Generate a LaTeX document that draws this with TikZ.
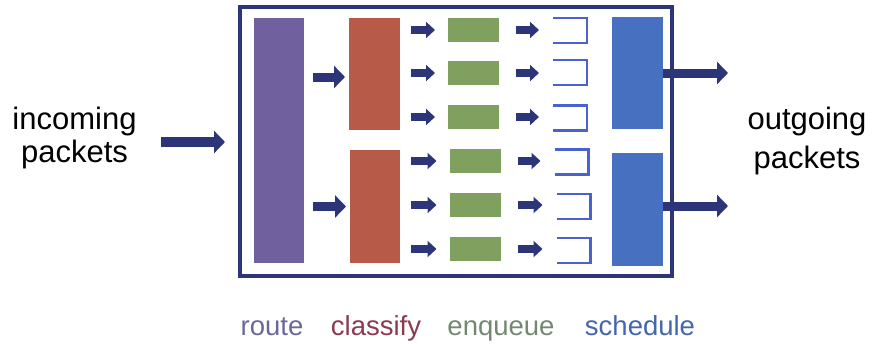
\documentclass[tikz,border=0pt]{standalone}
\usepackage{fontspec}
\setmainfont{Liberation Sans}
\usetikzlibrary{arrows.meta}
\definecolor{navy}{HTML}{2B3577}
\definecolor{routec}{HTML}{70609E}
\definecolor{classc}{HTML}{B85A48}
\definecolor{enqc}{HTML}{80A060}
\definecolor{schedc}{HTML}{4870C0}
\definecolor{queuec}{HTML}{4A62D0}
\definecolor{routet}{HTML}{6A6898}
\definecolor{classt}{HTML}{8B3B50}
\definecolor{enqt}{HTML}{748870}
\definecolor{schedt}{HTML}{4466AA}
\tikzset{
  blockbox/.style={inner sep=0pt, outer sep=0pt, draw=none},
  qbox/.style={inner sep=0pt, outer sep=0pt, minimum width=34pt, minimum height=25pt},
  qline/.style={draw=queuec, line width=2.3pt},
  bigarrow/.style={draw=navy, line width=10pt, -{Triangle[length=11pt,width=22pt]}},
  midarrow/.style={draw=navy, line width=9pt, -{Triangle[length=11pt,width=22pt]}},
  smallarrow/.style={draw=navy, line width=7.5pt, -{Triangle[length=9pt,width=16pt]}},
  sidetext/.style={inner sep=0pt, align=center, text=black},
  legend/.style={inner sep=0pt, anchor=base, font=\fontsize{27.5}{30}\selectfont},
}
\begin{document}
\begin{tikzpicture}[x=1pt,y=-1pt]
\useasboundingbox (0,0) rectangle (875,343);
% frame
\node[draw=navy, line width=4pt, minimum width=432pt, minimum height=269pt, inner sep=0pt] (frame) at (456,141.5) {};
% route
\node[blockbox, fill=routec, minimum width=50pt, minimum height=245pt] (route) at (279,140.5) {};
% classify
\node[blockbox, fill=classc, minimum width=51pt, minimum height=112pt] (clA) at (374.5,74) {};
\node[blockbox, fill=classc, minimum width=50pt, minimum height=113pt] (clB) at (375,206.5) {};
% schedule
\node[blockbox, fill=schedc, minimum width=51pt, minimum height=112pt] (scA) at (637.5,73) {};
\node[blockbox, fill=schedc, minimum width=51pt, minimum height=113pt] (scB) at (637.5,209.5) {};
% enqueue boxes
\node[blockbox, fill=enqc, minimum width=51pt, minimum height=24pt] (e1) at (473.5,30) {};
\node[blockbox, fill=enqc, minimum width=51pt, minimum height=24pt] (e2) at (473.5,73) {};
\node[blockbox, fill=enqc, minimum width=51pt, minimum height=24pt] (e3) at (473.5,117) {};
\node[blockbox, fill=enqc, minimum width=51pt, minimum height=24pt] (e4) at (475,161) {};
\node[blockbox, fill=enqc, minimum width=51pt, minimum height=24pt] (e5) at (475,205) {};
\node[blockbox, fill=enqc, minimum width=51pt, minimum height=24pt] (e6) at (475,249) {};
% queues
\node[qbox] (q1) at (570,30.5) {};
\node[qbox] (q2) at (570,72.5) {};
\node[qbox] (q3) at (570,118) {};
\node[qbox] (q4) at (571.5,162) {};
\node[qbox] (q5) at (573.5,206.5) {};
\node[qbox] (q6) at (573.5,250.5) {};
\foreach \q in {q1,q2,q3,q4,q5,q6}{
  \draw[qline] (\q.north west) -- (\q.north east) -- (\q.south east) -- (\q.south west);
}
% texts
\node[sidetext, font=\fontsize{31}{33}\selectfont] (inT) at (74.5,138) {incoming\\packets};
\node[sidetext, font=\fontsize{31}{39}\selectfont] (outT) at (807,141) {outgoing\\packets};
\coordinate (inA) at (161,142);
\coordinate (outA) at (728,73);
\coordinate (outB) at (728,206);
% arrows
\draw[bigarrow, shorten >=13pt] (inA) -- (inA -| frame.west);
\draw[midarrow, shorten <=9pt, shorten >=4pt] ([yshift=-3pt]clA.west -| route.east) -- ([yshift=-3pt]clA.west);
\draw[midarrow, shorten <=9pt, shorten >=4pt] ([yshift=0pt]clB.west -| route.east) -- ([yshift=0pt]clB.west);
\draw[midarrow] (scA.east) -- (outA);
\draw[midarrow] (scB.east |- outB) -- (outB);
\foreach \e/\c in {e1/clA,e2/clA,e3/clA,e4/clB,e5/clB,e6/clB}{
  \draw[smallarrow, shorten <=11pt, shorten >=13pt] (\e.west -| \c.east) -- (\e.west);
}
\foreach \e/\q in {e1/q1,e2/q2,e3/q3,e4/q4,e5/q5,e6/q6}{
  \draw[smallarrow, shorten <=17pt, shorten >=14pt] (\e.east) -- (\e.east -| \q.west);
}
% legend
\node[legend, text=routet] (lr) at (272,335) {route};
\node[legend, text=classt] (lc) at (376,335) {classify};
\node[legend, text=enqt] (le) at (501,335) {enqueue};
\node[legend, text=schedt] (ls) at (640,335) {schedule};
\end{tikzpicture}
\end{document}
